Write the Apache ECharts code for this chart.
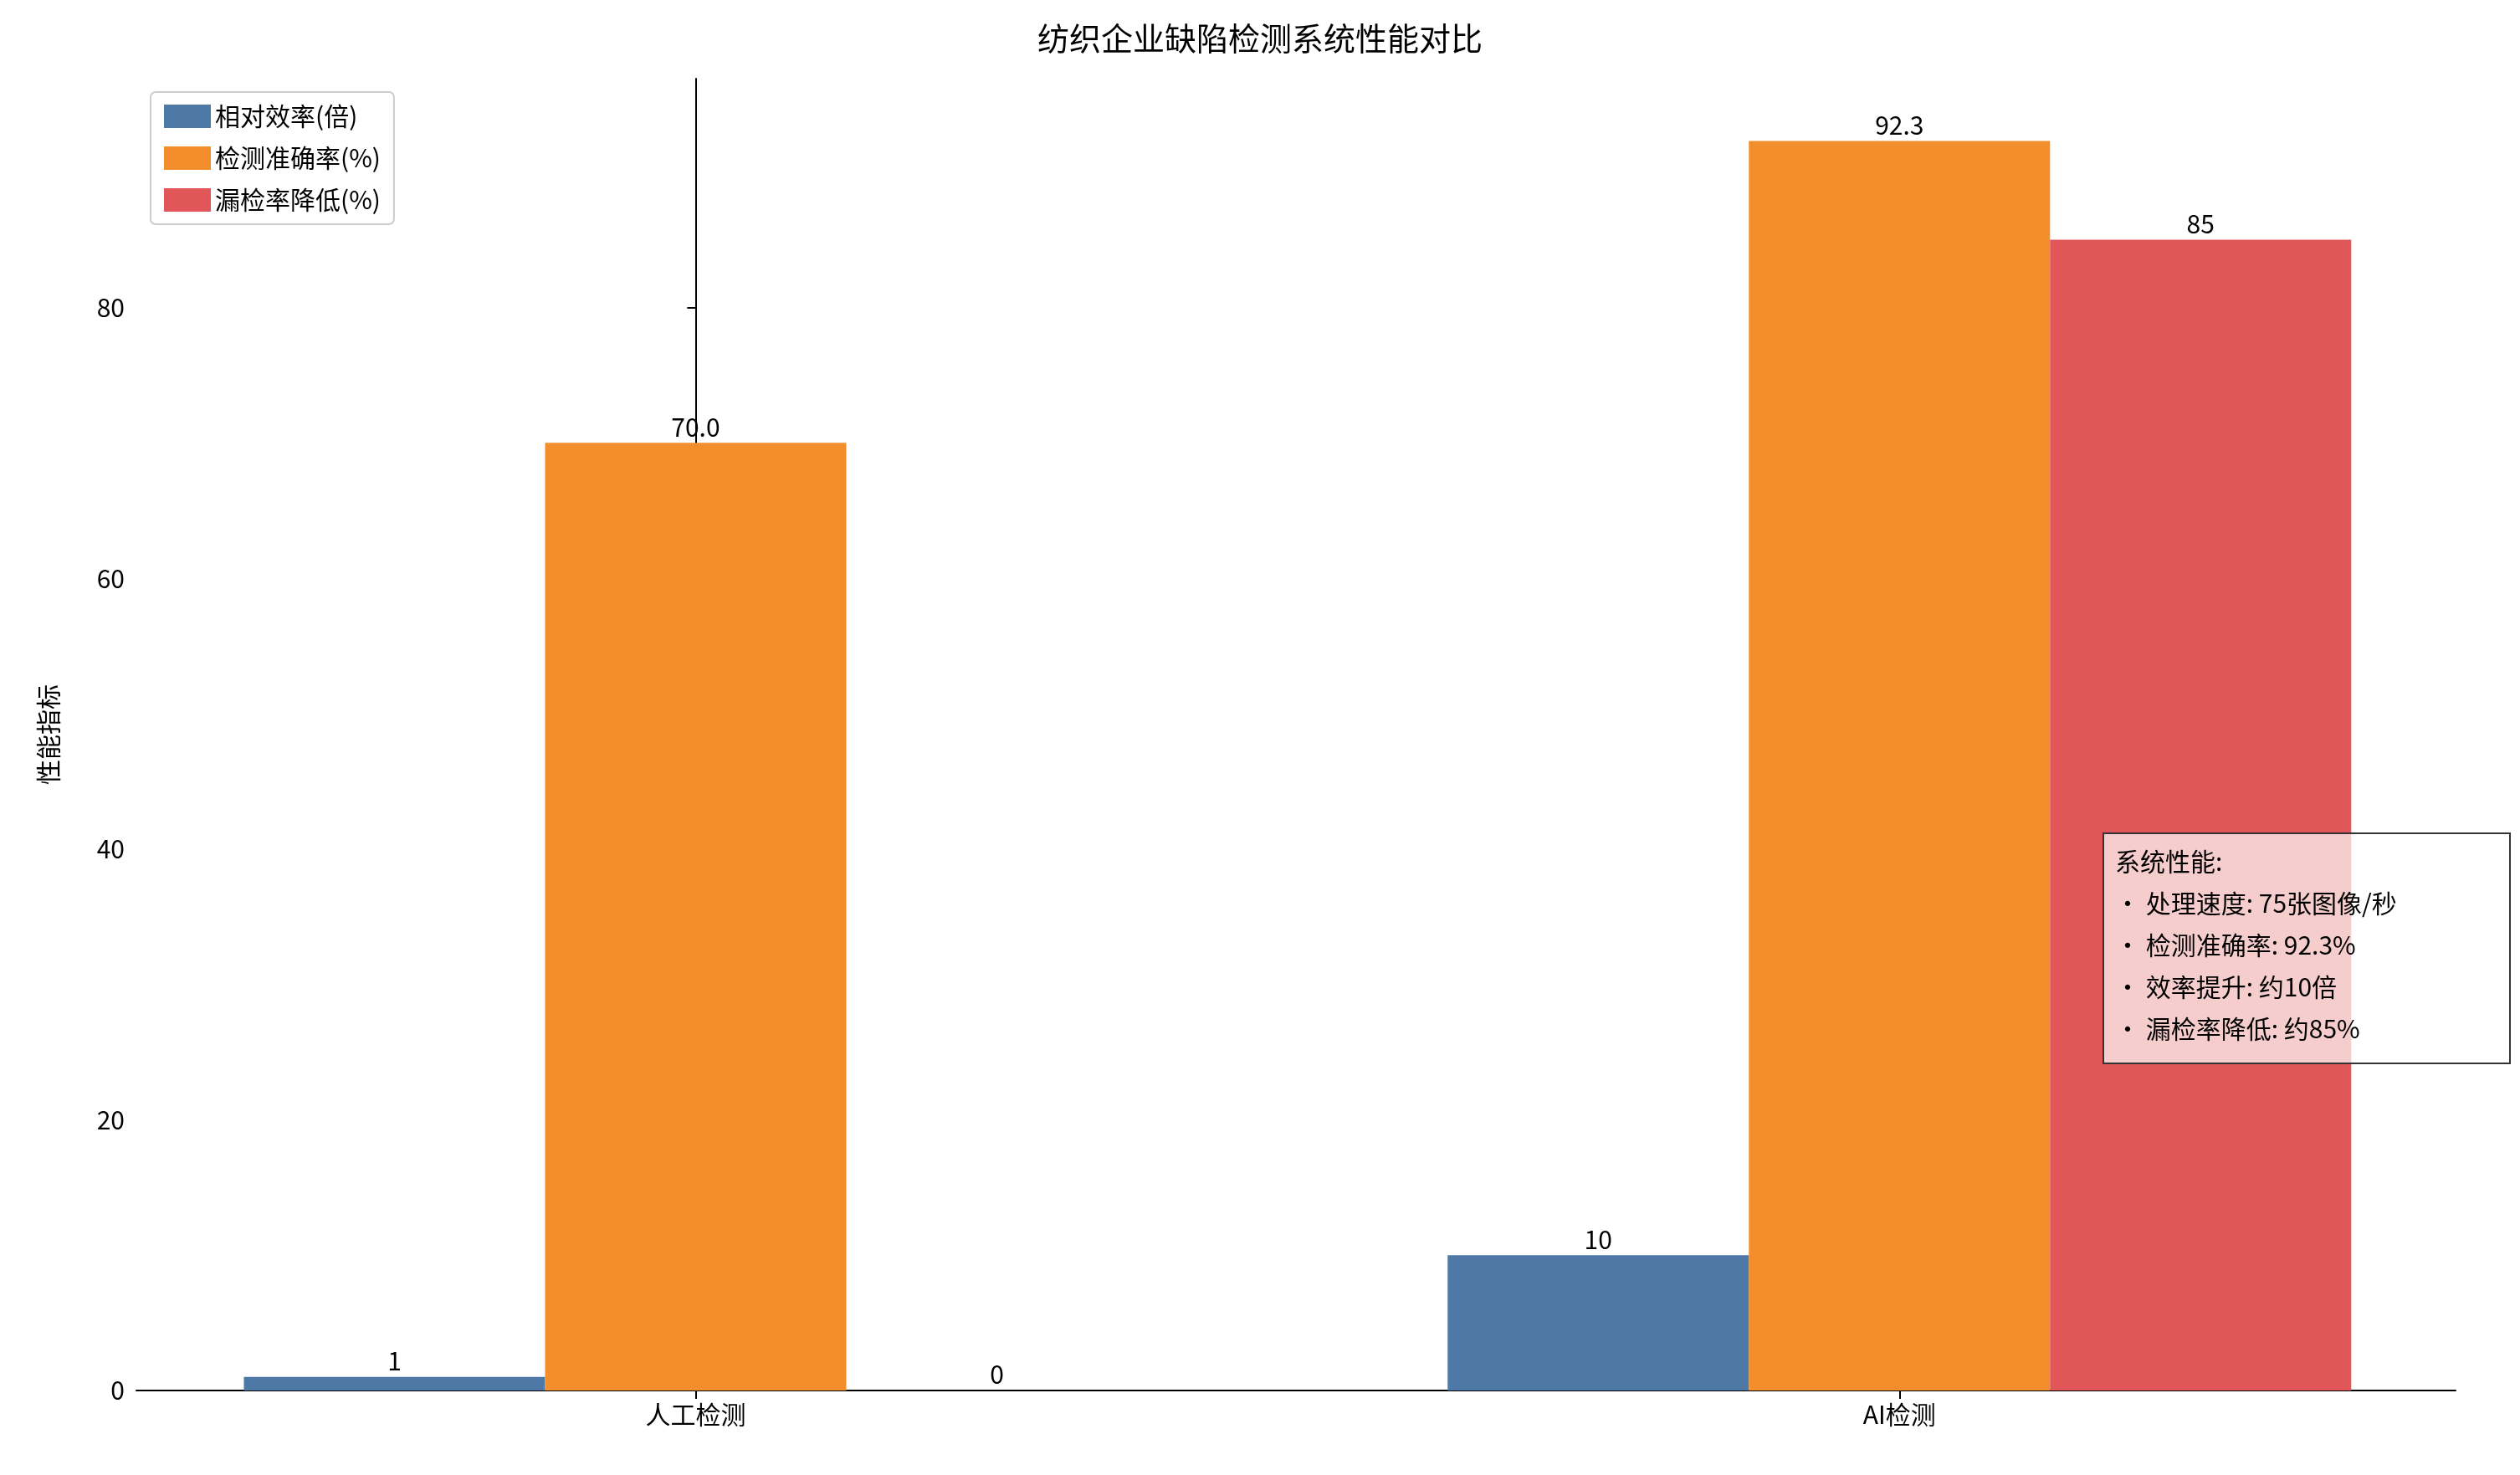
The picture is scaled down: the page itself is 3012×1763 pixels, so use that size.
<!DOCTYPE html>
<html><head><meta charset="utf-8">
<script src="https://cdn.jsdelivr.net/npm/echarts@6/dist/echarts.min.js"></script>
<style>html,body{margin:0;padding:0;background:#fff}#c{width:3012px;height:1763px}</style>
</head><body><div id="c"></div>
<script>
const categories = ['人工检测', 'AI检测'];
const efficiency = [1, 10];
const accuracy = [70.0, 92.3];
const missReduction = [0, 85];
const seriesNames = ['相对效率(倍)', '检测准确率(%)', '漏检率降低(%)'];
const noteLines = ['系统性能:', '• 处理速度: 75张图像/秒', '• 检测准确率: 92.3%', '• 效率提升: 约10倍', '• 漏检率降低: 约85%'];

const F = 'Noto Sans CJK SC';
const chart = echarts.init(document.getElementById('c'));
const mk = (arr) => arr.map((v, i) => [i, v]);
const lab = (fmt) => ({show: true, position: 'top', fontSize: 30, fontFamily: F, color: '#000', distance: 4, formatter: p => fmt(p.value[1])});
chart.setOption({
  animation: false,
  title: {text: '纺织企业缺陷检测系统性能对比', left: 'center', top: 22, textStyle: {fontSize: 38, fontWeight: 'normal', fontFamily: F, color: '#000'}},
  grid: {left: 163, right: 77, top: 94, bottom: 101},
  legend: {orient: 'vertical', left: 180, top: 110, itemWidth: 56, itemHeight: 28, itemGap: 20,
    textStyle: {fontSize: 30, fontFamily: F, color: '#000'}, borderColor: '#ccc', borderWidth: 2, borderRadius: 6, padding: [14, 16],
    data: seriesNames.map(n => ({name: n, icon: 'rect'}))},
  xAxis: {type: 'value', min: -0.4646, max: 1.462, splitLine: {show: false},
    axisLine: {onZero: false, lineStyle: {color: '#000', width: 2}},
    axisTick: {customValues: [0, 1], length: 10, lineStyle: {color: '#000', width: 2}},
    axisLabel: {customValues: [0, 1], formatter: v => categories[Math.round(v)], fontSize: 30, fontFamily: F, color: '#000', margin: 14}},
  yAxis: {type: 'value', min: 0, max: 96.9, interval: 20, name: '性能指标', nameLocation: 'middle', nameGap: 90, nameRotate: 90,
    nameTextStyle: {fontSize: 30, fontFamily: F, color: '#000'},
    splitLine: {show: false},
    axisLine: {show: true, lineStyle: {color: '#000', width: 2}},
    axisTick: {show: true, length: 10, lineStyle: {color: '#000', width: 2}},
    axisLabel: {showMaxLabel: false, fontSize: 30, fontFamily: F, color: '#000', margin: 14}},
  series: [
    {name: seriesNames[0], type: 'bar', data: mk(efficiency), barWidth: 360, barGap: '0%', itemStyle: {color: '#4e79a7'}, label: lab(v => String(v))},
    {name: seriesNames[1], type: 'bar', data: mk(accuracy), barWidth: 360, barGap: '0%', itemStyle: {color: '#f28e2b'}, label: lab(v => v.toFixed(1))},
    {name: seriesNames[2], type: 'bar', data: mk(missReduction), barWidth: 360, barGap: '0%', itemStyle: {color: '#e15759'}, label: lab(v => String(v))}
  ],
  graphic: [{type: 'rect', left: 2513, top: 995, shape: {width: 486, height: 275},
      style: {fill: 'rgba(255,255,255,0.7)', stroke: '#333', lineWidth: 2}, z: 100},
    {type: 'text', left: 2528, top: 1005, z: 101,
      style: {text: noteLines.join('\n'), font: '30px "Noto Sans CJK SC"', lineHeight: 50, fill: '#000'}}]
});
</script></body></html>
